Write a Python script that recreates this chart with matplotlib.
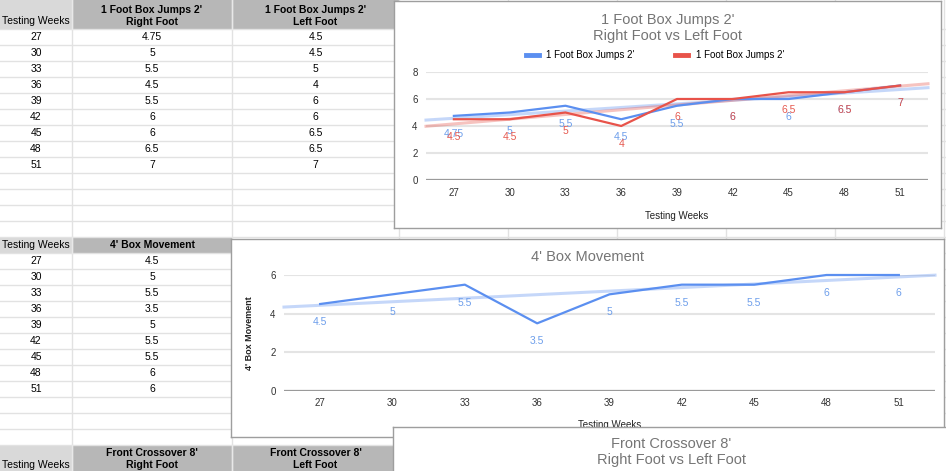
import numpy as np
import matplotlib.pyplot as plt
from matplotlib.patches import Rectangle

plt.rcParams['font.family'] = ['Liberation Sans', 'DejaVu Sans']

# sheet data
weeks = [27, 30, 33, 36, 39, 42, 45, 48, 51]
right_foot = [4.75, 5, 5.5, 4.5, 5.5, 6, 6, 6.5, 7]
left_foot = [4.5, 4.5, 5, 4, 6, 6, 6.5, 6.5, 7]
box_movement = [4.5, 5, 5.5, 3.5, 5, 5.5, 5.5, 6, 6]

week_header = "Testing Weeks"
jump_headers = ["1 Foot Box Jumps 2'\nRight Foot", "1 Foot Box Jumps 2'\nLeft Foot"]
box_header = "4' Box Movement"
cross_headers = ["Front Crossover 8'\nRight Foot", "Front Crossover 8'\nLeft Foot"]
jump_series = ["1 Foot Box Jumps 2'", "1 Foot Box Jumps 2'"]
jump_title = "1 Foot Box Jumps 2'\nRight Foot vs Left Foot"
box_title = "4' Box Movement"
cross_title = "Front Crossover 8'\nRight Foot vs Left Foot"

BLUE = '#5b8ff0'
RED = '#e8534a'
BLUE_LBL = '#6d9eeb'
RED_LBL = '#e65a50'
TITLE_GREY = '#757575'

W, H = 946, 471
fig = plt.figure(figsize=(W / 100, H / 100), dpi=100)


def px_axes(x0, y0, x1, y1, z):
    return fig.add_axes([x0 / W, 1 - y1 / H, (x1 - x0) / W, (y1 - y0) / H], zorder=z)


# ---- spreadsheet background ----
sheet = px_axes(0, 0, W, H, 0)
sheet.set_xlim(0, W)
sheet.set_ylim(H, 0)
sheet.axis('off')

col_edges = [0, 72, 232, 399, 508, 617, 726, 835, 944]
row_edges = [29 + 16 * k for k in range(14)] + [253 + 16 * k for k in range(13)]

for x in col_edges[1:]:
    sheet.plot([x, x], [0, H], color='#e2e2e2', lw=1)
for y in row_edges:
    sheet.plot([0, W], [y, y], color='#e2e2e2', lw=1)


def header(y0, y1, ncols):
    sheet.add_patch(Rectangle((0, y0), 72, y1 - y0, color='#d9d9d9', lw=0))
    for c in range(ncols):
        sheet.add_patch(Rectangle((col_edges[c + 1], y0), col_edges[c + 2] - col_edges[c + 1],
                                  y1 - y0, color='#b7b7b7', lw=0))
        sheet.plot([col_edges[c + 1]] * 2, [y0, y1], color='#e8e8e8', lw=1)


header(0, 29, 2)
header(237, 253, 1)
header(445, 480, 2)

tkw = dict(fontsize=7.5, ha='center', va='center', color='#000000')
sheet.text(36, 21, week_header, **tkw)
for c, lbl in enumerate(jump_headers):
    sheet.text((col_edges[c + 1] + col_edges[c + 2]) / 2, 16, lbl, fontweight='bold',
               linespacing=1.15, **tkw)
for i, w in enumerate(weeks):
    y = 29 + 16 * i + 8.5
    sheet.text(36, y, str(w), **tkw)
    sheet.text(152, y, f"{right_foot[i]:g}", **tkw)
    sheet.text(315.5, y, f"{left_foot[i]:g}", **tkw)

sheet.text(36, 245.5, week_header, **tkw)
sheet.text(152, 245.5, box_header, fontweight='bold', **tkw)
for i, w in enumerate(weeks):
    y = 253 + 16 * i + 8.5
    sheet.text(36, y, str(w), **tkw)
    sheet.text(152, y, f"{box_movement[i]:g}", **tkw)

sheet.text(36, 465, week_header, **tkw)
for c, lbl in enumerate(cross_headers):
    sheet.text((col_edges[c + 1] + col_edges[c + 2]) / 2, 459, lbl, fontweight='bold',
               linespacing=1.15, **tkw)


# ---- chart helpers ----
def chart_frame(x0, y0, x1, y1, z, title, title_y):
    ax = px_axes(x0, y0, x1, y1, z)
    ax.set_facecolor('white')
    ax.set_xticks([])
    ax.set_yticks([])
    for s in ax.spines.values():
        s.set_color('#9e9e9e')
        s.set_linewidth(1)
    ax.text(0.5, 1 - (title_y - y0) / (y1 - y0), title, transform=ax.transAxes,
            ha='center', va='center', fontsize=10.5, color=TITLE_GREY, linespacing=1.25)
    return ax


def style_plot(ax, ymax, ystep, xpad, ypad):
    n = len(weeks)
    ax.set_facecolor('none')
    ax.set_xlim(-0.5, n - 0.5)
    ax.set_ylim(0, ymax)
    ax.set_xticks(range(n))
    ax.set_xticklabels([str(w) for w in weeks])
    ax.set_yticks(np.arange(0, ymax + 0.01, ystep))
    ax.yaxis.grid(True, color='#e4e4e4', lw=1.5)
    ax.set_axisbelow(True)
    for s in ax.spines.values():
        s.set_visible(False)
    ax.axhline(0, color='#9a9a9a', lw=1.6, zorder=1)
    ax.tick_params(length=0, labelsize=7, labelcolor='#333333')
    ax.tick_params(axis='x', pad=xpad)
    ax.tick_params(axis='y', pad=ypad)
    ax.set_xlabel(week_header, fontsize=7, color='#222222', labelpad=9)


def draw_series(ax, values, color, lbl_color, name=None):
    idx = np.arange(len(values))
    slope, icpt = np.polyfit(idx, values, 1)
    tx = np.array([-0.5, len(values) - 0.5])
    ax.plot(tx, slope * tx + icpt, color=color, alpha=0.35, lw=2.2, zorder=2, clip_on=False)
    line, = ax.plot(idx, values, color=color, lw=1.6, zorder=3, label=name, clip_on=False)
    for i, v in enumerate(values):
        ax.annotate(f"{v:g}", (i, v), xytext=(0, -18), textcoords='offset pixels',
                    ha='center', va='center', fontsize=7.5, color=lbl_color, zorder=4)
    return line


# chart 1
chart_frame(394, 1, 941, 228, 2, jump_title, 28)
ax1 = px_axes(426, 72, 928, 180, 3)
style_plot(ax1, 8, 2, 6, 6)
l1 = draw_series(ax1, right_foot, BLUE, BLUE_LBL, jump_series[0])
l2 = draw_series(ax1, left_foot, RED, RED_LBL, jump_series[1])
leg = ax1.legend(handles=[l1, l2], loc='center', bbox_to_anchor=(655 / W, 1 - 55 / H),
                 bbox_transform=fig.transFigure, ncol=2, frameon=False, fontsize=7,
                 handlelength=1.3, handletextpad=0.8, columnspacing=4.2)
for h in leg.legend_handles:
    h.set_linewidth(3.5)
    h.set_alpha(1)

# chart 2
chart_frame(231, 239, 944, 437, 4, box_title, 257)
ax2 = px_axes(284, 275, 935, 391, 5)
style_plot(ax2, 6, 2, 5, 6)
draw_series(ax2, box_movement, BLUE, BLUE_LBL)
ax2.set_ylabel(box_header, fontsize=6.5, fontweight='bold', color='#222222', labelpad=12)

# chart 3 (only its top is on screen)
chart_frame(393, 427, 950, 480, 6, cross_title, 452)

fig.savefig('out.png', dpi=100)
